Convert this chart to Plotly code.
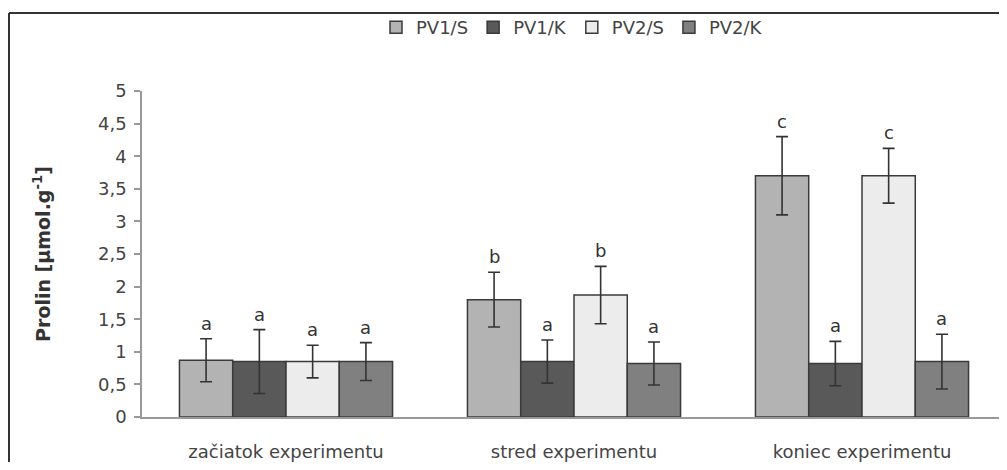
import plotly.graph_objects as go

categories = ["začiatok experimentu", "stred experimentu", "koniec experimentu"]
series_names = ["PV1/S", "PV1/K", "PV2/S", "PV2/K"]

pv1_s = [0.87, 1.80, 3.70]
pv1_s_err = [0.33, 0.42, 0.60]
pv1_k = [0.85, 0.85, 0.82]
pv1_k_err = [0.49, 0.33, 0.34]
pv2_s = [0.85, 1.87, 3.70]
pv2_s_err = [0.25, 0.44, 0.42]
pv2_k = [0.85, 0.82, 0.85]
pv2_k_err = [0.29, 0.33, 0.42]

pv1_s_letters = ["a", "b", "c"]
pv1_k_letters = ["a", "a", "a"]
pv2_s_letters = ["a", "b", "c"]
pv2_k_letters = ["a", "a", "a"]

y_ticks = [0, 0.5, 1, 1.5, 2, 2.5, 3, 3.5, 4, 4.5, 5]

values = [pv1_s, pv1_k, pv2_s, pv2_k]
errors = [pv1_s_err, pv1_k_err, pv2_s_err, pv2_k_err]
letters = [pv1_s_letters, pv1_k_letters, pv2_s_letters, pv2_k_letters]
colors = ["#b3b3b3", "#595959", "#ececec", "#808080"]

FONT = "DejaVu Sans, Liberation Sans, Arial, sans-serif"
BARGAP = 0.26

# The page body has an 8px margin; size the figure so that no scrollbars appear.
OFF = 8
W, H = 1007 - 2 * OFF, 470 - 2 * OFF
L, R, T = 142 - OFF, 0, 83
B = H - (417 - OFF)
pw, ph = W - L - R, H - T - B
CAT_PX = 288.0  # pixels per category band

def sx(px):  # screen x -> paper
    return (px - OFF - L) / pw
def sy(py):  # screen y -> paper
    return (H - B - (py - OFF)) / ph

fig = go.Figure()
for name, vals, errs, col in zip(series_names, values, errors, colors):
    fig.add_trace(go.Bar(
        name=name, x=categories, y=vals,
        marker=dict(color=col, line=dict(color="#3a3a3a", width=1.5)),
        error_y=dict(type="data", array=errs, visible=True,
                     color="#333333", thickness=1.6, width=6),
    ))

# significance letters above error bars
n = len(series_names)
bw = (1 - BARGAP) / n
for si, (vals, errs, lets) in enumerate(zip(values, errors, letters)):
    off = -(1 - BARGAP) / 2 + bw * (si + 0.5)
    for ci in range(len(categories)):
        fig.add_annotation(
            x=ci + off, y=vals[ci] + errs[ci], xref="x", yref="y",
            text=lets[ci], showarrow=False, yanchor="bottom", yshift=3,
            font=dict(family=FONT, size=18, color="#333333"),
        )

# outer frame of chart area (left and top edges visible in the picture)
fig.add_shape(type="line", xref="paper", yref="paper",
              x0=sx(9), x1=sx(9), y0=sy(480), y1=sy(13),
              line=dict(color="#333333", width=2), layer="below")
fig.add_shape(type="line", xref="paper", yref="paper",
              x0=sx(9), x1=sx(1010), y0=sy(13), y1=sy(13),
              line=dict(color="#333333", width=2), layer="below")

fig.update_layout(
    width=W, height=H,
    margin=dict(l=L, r=R, t=T, b=B),
    paper_bgcolor="white", plot_bgcolor="white",
    barmode="group", bargap=BARGAP, bargroupgap=0,
    separators=", ",
    font=dict(family=FONT, size=18, color="#444444"),
    showlegend=True,
    legend=dict(orientation="h", x=sx(572), xanchor="center",
                y=sy(9), yanchor="top",
                font=dict(family=FONT, size=18, color="#444444"),
                itemwidth=30, bgcolor="rgba(0,0,0,0)"),
    xaxis=dict(showline=True, linecolor="#999999", linewidth=1.5,
               range=[-0.5, -0.5 + pw / CAT_PX],
               ticks="", showgrid=False, zeroline=False,
               tickfont=dict(family=FONT, size=18, color="#444444"),
               ticklabelstandoff=18),
    yaxis=dict(range=[0, 5], tickvals=y_ticks, showgrid=False, zeroline=False,
               showline=True, linecolor="#999999", linewidth=1.5,
               ticks="outside", ticklen=6, tickcolor="#999999", tickwidth=1.5,
               ticklabelstandoff=4,
               tickfont=dict(family=FONT, size=18, color="#444444"),
               title=dict(text="<b>Prolin [µmol.g<sup>-1</sup>]</b>",
                          font=dict(family=FONT, size=19, color="#333333"),
                          standoff=42),
               automargin=False),
)

fig.write_html("out.html")
